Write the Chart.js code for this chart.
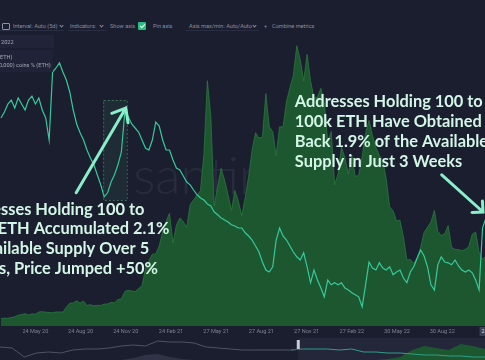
<!DOCTYPE html>
<html><head><meta charset="utf-8">
<script src="https://cdn.jsdelivr.net/npm/chart.js@4.4.1/dist/chart.umd.min.js"></script>
<style>
html,body{margin:0;padding:0;}
body{width:485px;height:360px;overflow:hidden;background:#1b1e2f;position:relative;font-family:Roboto,'Noto Sans',sans-serif;}
.abs{position:absolute;white-space:nowrap;}
.tb{top:22px;font-size:5.6px;line-height:8px;color:#8a8fa1;}
.chev{position:absolute;top:24px;width:2px;height:2px;border-right:1px solid #8a8fa1;border-bottom:1px solid #8a8fa1;transform:rotate(45deg);}
.ul{position:absolute;top:30px;height:1px;background:#2a2e42;}
.panel{position:absolute;left:0;background:#212438;}
.lg{font-size:5.6px;color:#a3a7b7;line-height:8px;}
#mainWrap{position:absolute;left:0;top:34px;width:485px;height:304px;}
#navWrap{position:absolute;left:0;top:338px;width:485px;height:22px;}
</style></head>
<body>
<div class="abs" style="left:2px;top:23px;width:6px;height:5px;border:1px solid #8a8fa1;border-radius:1px;"></div>
<div class="abs tb" style="left:13px;">Interval: Auto (5d)</div>
<div class="chev" style="left:60px;"></div>
<div class="abs tb" style="left:70px;">Indicators:</div>
<div class="chev" style="left:100px;"></div>
<div class="abs tb" style="left:110px;">Show axis</div>
<div class="abs" style="left:138px;top:22px;width:8px;height:8px;background:#2bbb85;border-radius:1px;"></div>
<div class="abs" style="left:140.5px;top:23px;width:2px;height:4px;border-right:1px solid #e8fff4;border-bottom:1px solid #e8fff4;transform:rotate(45deg);"></div>
<div class="abs tb" style="left:153px;">Pin axis</div>
<div class="abs tb" style="left:189px;">Axis max/min: Auto/Auto</div>
<div class="chev" style="left:253px;"></div>
<div class="abs tb" style="left:264px;">+</div>
<div class="abs tb" style="left:272px;">Combine metrics</div>
<div class="ul" style="left:0;width:64px;"></div>
<div class="ul" style="left:68px;width:38px;"></div>
<div class="ul" style="left:186px;width:73px;"></div>

<div id="mainWrap"><canvas id="main"></canvas></div>
<div id="navWrap"><canvas id="nav"></canvas></div>

<div class="panel" style="top:35px;width:54px;height:13px;"></div>
<div class="abs lg" style="left:1px;top:38px;">2022</div>
<div class="panel" style="top:50px;width:53px;height:22px;background:rgba(33,36,56,0.85);"></div>
<div class="abs lg" style="left:-2px;top:53px;">(ETH)</div>
<div class="abs lg" style="left:-1px;top:61px;">0,000) coins % (ETH)</div>

<script>
// ---- data ----
const axisStart = '2020-03-13';
const firstSample = '2020-03-15';
const sampleStepDays = 7;
// ETH price (USD), weekly
const ethPrice = [
 125,135,132,145,158,185,197,210,188,207,
 203,240,245,236,230,226,240,240,238,320,
 390,395,430,395,428,352,366,345,355,352,
 375,378,405,396,455,462,590,612,600,590,
 640,690,975,1110,1230,1235,1370,1610,1790,1930,
 1420,1725,1850,1785,1690,2080,2160,2240,2320,2950,
 4200,3600,2050,2400,2700,2500,2250,1980,2320,2140,
 1890,2200,2560,3010,3310,3220,3230,3980,3410,3330,
 2920,3410,3410,3840,4080,4290,4800,4560,4200,4650,
 4200,3900,3920,4070,3830,3150,3330,2420,2600,3060,
 2880,2600,2920,2560,2580,2900,3300,3520,3260,3060,
 2920,2830,2520,2040,1970,1800,1810,1530,1130,1140,
 1070,1170,1350,1600,1690,1780,1980,1620,1550,1580,
 1720,1350,1310,1310,1290,1310,1360,1570,1610,1260,
 1140,1200
];
// Supply held by addresses with 100-100,000 coins (% of supply), weekly
const holdPct = [
 43.20,43.35,43.55,43.65,43.45,43.70,43.55,43.40,43.65,43.75,
 43.55,43.70,43.40,43.20,42.65,44.35,44.45,44.58,44.35,44.15,
 43.85,43.40,43.05,42.83,42.65,42.40,42.20,42.03,41.78,41.53,
 41.23,41.33,41.60,41.78,42.03,42.35,43.35,43.23,43.05,42.95,
 42.85,42.65,42.45,42.40,42.65,43.10,43.00,42.65,42.40,42.40,
 42.15,41.95,41.90,41.75,41.60,41.53,41.40,41.28,41.20,41.15,
 41.05,41.00,40.85,40.78,40.70,40.65,40.60,40.53,40.50,40.45,
 40.45,40.33,40.25,40.15,40.00,39.85,39.60,39.40,39.35,39.48,
 40.15,40.45,40.25,40.15,40.00,39.85,39.73,39.65,39.83,39.48,
 39.08,39.40,39.15,38.95,38.73,39.15,39.03,39.08,39.03,39.08,
 38.95,38.90,38.83,38.78,38.73,38.48,39.03,39.60,39.45,39.40,
 39.58,39.45,39.40,39.48,39.28,39.35,39.40,39.20,39.08,39.35,
 39.48,39.70,39.90,39.75,39.48,39.03,38.90,39.53,39.73,39.60,
 39.58,39.53,39.65,39.50,39.40,39.35,39.40,39.33,39.15,38.90,
 40.45,40.70
];
const tickDates = ['2020-05-24','2020-08-24','2020-11-24','2021-02-24','2021-05-27','2021-08-27','2021-11-27','2022-02-27','2022-05-30','2022-08-30'];
const tickLabels = ['24 May 20','24 Aug 20','24 Nov 20','24 Feb 21','27 May 21','27 Aug 21','27 Nov 21','27 Feb 22','30 May 22','30 Aug 22'];
const axisEnd = '2022-11-25';
const hoverLabel = '22 Nov 22';
// navigator overview (relative units)
const navLine = [13,12,3,7,8,7,10,11,11,12,14,15,14,19,18,18,17,13,12,11,10,10,10,10,10,11,11,11,10,11,8,8,7,7,6,5,5,4,4,3,3];
const navPrice = [0,0,0,0,0,0,0,0,0,0,0,2,5,6,3,1,0,0,0,0,0,0,0,0,0,0,0,0,0,0,0,0,1,3,10,14,12,10,16,14,11];
const navWindowStart = 24.6;

// annotations (in data coords: day / holdPct)
const note1 = ['Addresses Holding 100 to','100k ETH Accumulated 2.1%','of Available Supply Over 5','Weeks, Price Jumped +50%'];
const note2 = ['Addresses Holding 100 to','100k ETH Have Obtained','Back 1.9% of the Available','Supply in Just 3 Weeks'];

// ---- helpers ----
const DAY = 86400000;
const t0 = Date.parse(axisStart);
const dayOf = s => (Date.parse(s) - t0) / DAY;
const firstDay = dayOf(firstSample);
const xs = ethPrice.map((_, i) => firstDay + i * sampleStepDays);
const tickDays = tickDates.map(dayOf);
const maxDay = dayOf(axisEnd);

const annotPlugin = {
  id: 'annot',
  beforeDatasetsDraw(chart) {
    const {ctx, scales: {x, yL}} = chart;
    ctx.save();
    ctx.font = '300 52px Lato, Roboto, sans-serif';
    ctx.fillStyle = 'rgba(210,215,235,0.075)';
    ctx.textAlign = 'left'; ctx.textBaseline = 'alphabetic';
    ctx.fillText('santiment', x.getPixelForValue(271), yL.getPixelForValue(41.30));
    ctx.restore();
  },
  afterDatasetsDraw(chart) {
    const {ctx, scales: {x, yL}, chartArea: a} = chart;
    ctx.save();
    // highlight box
    const bx1 = x.getPixelForValue(210), bx2 = x.getPixelForValue(258);
    const by1 = yL.getPixelForValue(43.65), by2 = yL.getPixelForValue(41.15);
    ctx.fillStyle = 'rgba(70,170,110,0.10)';
    ctx.fillRect(bx1, by1, bx2 - bx1, by2 - by1);
    ctx.setLineDash([2, 2]);
    ctx.strokeStyle = 'rgba(80,170,115,0.55)';
    ctx.lineWidth = 1;
    ctx.strokeRect(bx1 + 0.5, by1 + 0.5, bx2 - bx1, by2 - by1);
    ctx.setLineDash([]);
    // arrows
    const arrow = (d1, v1, d2, v2, head, spread) => {
      const x1 = x.getPixelForValue(d1), y1 = yL.getPixelForValue(v1);
      const x2 = x.getPixelForValue(d2), y2 = yL.getPixelForValue(v2);
      const ang = Math.atan2(y1 - y2, x1 - x2);
      ctx.strokeStyle = '#8aeecb'; ctx.lineWidth = 3; ctx.lineCap = 'round';
      ctx.beginPath(); ctx.moveTo(x1, y1); ctx.lineTo(x2, y2);
      ctx.moveTo(x2 + head * Math.cos(ang - spread), y2 + head * Math.sin(ang - spread));
      ctx.lineTo(x2, y2);
      ctx.lineTo(x2 + head * Math.cos(ang + spread), y2 + head * Math.sin(ang + spread));
      ctx.stroke();
    };
    arrow(155, 41.33, 256, 43.45, 15, 0.68);
    arrow(899, 41.78, 983, 40.85, 11, 0.78);
    // texts
    ctx.fillStyle = '#d3f6e6';
    ctx.textBaseline = 'alphabetic'; ctx.textAlign = 'left';
    ctx.font = 'bold 16px Lato, sans-serif';
    const w = ctx.measureText(note2[0]).width;
    const fs = 16 * 188 / w;
    ctx.font = 'bold ' + fs.toFixed(2) + 'px Lato, sans-serif';
    const lx2 = x.getPixelForValue(600), ly2 = yL.getPixelForValue(43.48);
    note2.forEach((t, i) => ctx.fillText(t, lx2, ly2 + i * 20));
    const lx1 = -ctx.measureText('Addre').width + 1, ly1 = yL.getPixelForValue(40.78);
    note1.forEach((t, i) => ctx.fillText(t, lx1, ly1 + i * 19.6));
    // hover date label on axis
    const hx = x.getPixelForValue(dayOf('2022-11-22')) - 4;
    ctx.fillStyle = '#3e4256';
    ctx.fillRect(hx, a.bottom + 1, 40, 9);
    ctx.fillStyle = '#d6d9e3';
    ctx.font = '5.6px Roboto, sans-serif';
    ctx.textBaseline = 'middle';
    ctx.fillText(hoverLabel, hx + 2, a.bottom + 5.5);
    ctx.restore();
  }
};

new Chart(document.getElementById('main'), {
  type: 'line',
  data: {
    datasets: [
      {label: 'Supply held by 100-100,000 coins % (ETH)', data: xs.map((d, i) => ({x: d, y: holdPct[i]})),
       yAxisID: 'yL', borderColor: '#35c99c', borderWidth: 1.2, pointRadius: 0, fill: false, tension: 0, order: 0},
      {label: 'Price (ETH)', data: xs.map((d, i) => ({x: d, y: ethPrice[i]})),
       yAxisID: 'yP', borderColor: 'rgba(44,125,64,0.9)', borderWidth: 0.8, backgroundColor: '#1d5730',
       fill: 'origin', pointRadius: 0, tension: 0, order: 1}
    ]
  },
  options: {
    responsive: true, maintainAspectRatio: false, animation: false,
    layout: {padding: 0},
    plugins: {legend: {display: false}, tooltip: {enabled: false}},
    scales: {
      x: {type: 'linear', min: 0, max: maxDay,
          grid: {display: false, drawTicks: false}, border: {display: false},
          afterBuildTicks: s => { s.ticks = tickDays.map(v => ({value: v})); },
          afterFit: s => { s.height = 12; },
          ticks: {autoSkip: false, maxRotation: 0, padding: 2, color: '#7d8294',
                  font: {family: 'Roboto', size: 5.6}, callback: (v, i) => tickLabels[i]}},
      yP: {display: false, position: 'right', min: 0, max: 5000},
      yL: {display: false, position: 'left', min: 38.0, max: 45.3}
    }
  },
  plugins: [annotPlugin]
});

const navIdx = navLine.map((_, i) => i);
const navPlugin = {
  id: 'navWin',
  beforeDatasetsDraw(chart) {
    const {ctx, chartArea: a, scales: {x}} = chart;
    const wx = x.getPixelForValue(navWindowStart);
    ctx.save();
    ctx.fillStyle = '#232739';
    ctx.fillRect(wx, a.top, a.right - wx, a.bottom - a.top);
    ctx.restore();
  },
  afterDatasetsDraw(chart) {
    const {ctx, chartArea: a, scales: {x}} = chart;
    const wx = x.getPixelForValue(navWindowStart);
    ctx.save();
    ctx.fillStyle = '#c9ccd6';
    ctx.fillRect(wx - 1.5, a.top + 2, 3, 9);
    ctx.restore();
  }
};
const split = (arr, sel) => arr.map((v, i) => (sel ? i >= Math.floor(navWindowStart) : i <= Math.ceil(navWindowStart)) ? v : null);
new Chart(document.getElementById('nav'), {
  type: 'line',
  data: {
    labels: navIdx,
    datasets: [
      {data: split(navLine, false), borderColor: '#4e5366', borderWidth: 1, pointRadius: 0, fill: false, order: 0, yAxisID: 'y'},
      {data: split(navLine, true), borderColor: '#2f9f88', borderWidth: 1, pointRadius: 0, fill: false, order: 0, yAxisID: 'y'},
      {data: split(navPrice, false), borderWidth: 0, backgroundColor: 'rgba(110,115,135,0.25)', pointRadius: 0, fill: 'origin', order: 1, yAxisID: 'y'},
      {data: split(navPrice, true), borderWidth: 0, backgroundColor: '#1d5730', pointRadius: 0, fill: 'origin', order: 1, yAxisID: 'y'}
    ]
  },
  options: {
    responsive: true, maintainAspectRatio: false, animation: false,
    layout: {padding: 0},
    plugins: {legend: {display: false}, tooltip: {enabled: false}},
    scales: {
      x: {type: 'linear', display: false, min: 0, max: navLine.length - 1},
      y: {display: false, min: 0, max: 22}
    }
  },
  plugins: [navPlugin]
});
</script>
</body></html>
